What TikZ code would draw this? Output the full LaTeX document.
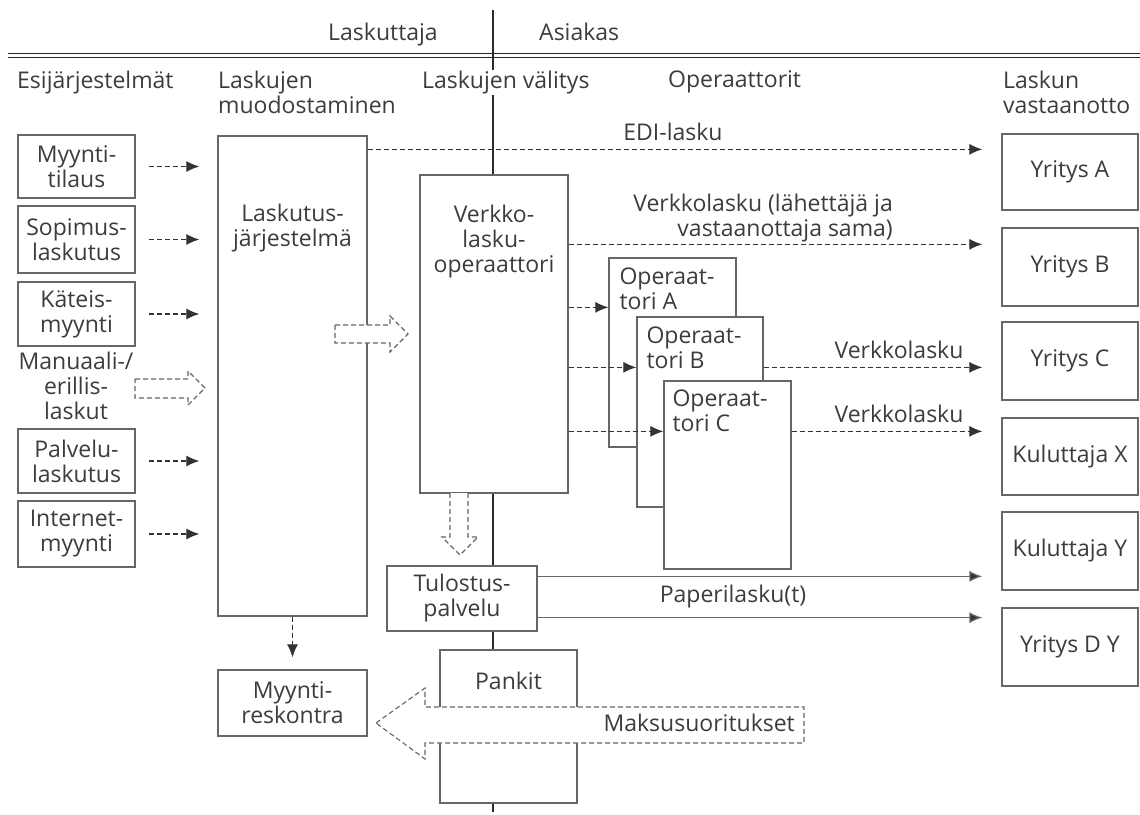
\documentclass[tikz,border=0pt]{standalone}
\usepackage{fontspec}
\setmainfont{Open Sans}
\usetikzlibrary{arrows.meta,calc}
\definecolor{txt}{HTML}{3C3C3C}
\definecolor{boxc}{HTML}{666666}
\definecolor{arrc}{HTML}{333333}
\definecolor{dark}{HTML}{2A2A2A}
\begin{document}
\begin{tikzpicture}[x=1pt,y=-1pt,
  every node/.style={font=\fontsize{23}{25}\selectfont, text=txt},
  box/.style={draw=boxc, line width=1.3pt, fill=white, inner sep=0pt, align=center},
  lbl/.style={inner sep=0pt, align=center},
  oplbl/.style={inner sep=0pt, align=left, anchor=north west},
  darr/.style={draw=arrc, line width=1.2pt, dash pattern=on 5pt off 3pt, -{Latex[length=13pt,width=11pt]}},
  sarr/.style={draw=boxc, line width=1.3pt, -{Latex[length=13pt,width=11pt, fill=arrc]}},
  blk/.style={draw=boxc, line width=1.1pt, dash pattern=on 5pt off 3pt, fill=white},
  hdr/.style={inner sep=0pt, align=left, anchor=north west},
]
\useasboundingbox (0,0) rectangle (1140,814);

% header rules and divider
\draw[line width=1pt, draw=dark] (8,53) -- (1140,53);
\draw[line width=1pt, draw=dark] (8,57) -- (1140,57);
\coordinate (vtop) at (493,10);
\coordinate (vbot) at (493,812);
\draw[line width=2.2pt, draw=dark] (vtop) -- (vbot);

% headers
\node[anchor=base] (hl) at (383,40) {Laskuttaja};
\node[anchor=base west, inner sep=0pt] (ha) at (539,40) {Asiakas};
\node[hdr] (h1) at (17,70.5) {Esijärjestelmät};
\node[hdr] (h2) at (218,70.5) {Laskujen\\muodostaminen};
\node[hdr, fill=white, inner sep=1pt] (h3) at (421,69.5) {Laskujen välitys};
\node[hdr] (h4) at (668,70.5) {Operaattorit};
\node[hdr] (h5) at (1003,70.5) {Laskun\\vastaanotto};

% left column
\node[box, minimum width=117pt, minimum height=63pt] (myt) at (76.5,166.5) {Myynti-\\tilaus};
\node[box, minimum width=117pt, minimum height=67pt] (sop) at (76.5,239.5) {Sopimus-\\laskutus};
\node[box, minimum width=117pt, minimum height=64pt] (kat) at (76.5,314) {Käteis-\\myynti};
\node[lbl] (man) at (76,386) {Manuaali-/\\erillis-\\laskut};
\node[box, minimum width=117pt, minimum height=64pt] (pal) at (76.5,461) {Palvelu-\\laskutus};
\node[box, minimum width=117pt, minimum height=66pt] (int) at (76.5,534) {Internet-\\myynti};

% invoicing system
\node[box, minimum width=149pt, minimum height=480pt,
  label={[lbl, anchor=center, yshift=-93pt]north:Laskutus-\\järjestelmä}] (ls) at (292.5,376) {};
\node[box, minimum width=149pt, minimum height=66pt] (mr) at (292.5,703) {Myynti-\\reskontra};

% network operator
\node[box, minimum width=148pt, minimum height=318pt,
  label={[lbl, anchor=center, yshift=-67pt]north:Verkko-\\lasku-\\operaattori}] (vo) at (494,334) {};

% operators
\node[box, minimum width=127pt, minimum height=189pt,
  label={[oplbl, xshift=11pt, yshift=-10pt]north west:Operaat-\\tori A}] (opa) at (672.5,352.5) {};
\node[box, minimum width=126pt, minimum height=190pt,
  label={[oplbl, xshift=10pt, yshift=-10pt]north west:Operaat-\\tori B}] (opb) at (700,412) {};
\node[box, minimum width=127pt, minimum height=188pt,
  label={[oplbl, xshift=9pt, yshift=-9pt]north west:Operaat-\\tori C}] (opc) at (727.5,475) {};

% print service and banks
\node[box, minimum width=150pt, minimum height=65pt] (tul) at (462,598.5) {Tulostus-\\palvelu};
\node[box, minimum width=137pt, minimum height=153pt,
  label={[lbl, anchor=center, yshift=-32pt]north:Pankit}] (pk) at (508.5,726.5) {};

% receivers
\node[box, minimum width=136pt, minimum height=76pt] (ya) at (1070,172) {Yritys A};
\node[box, minimum width=136pt, minimum height=78pt] (yb) at (1070,267) {Yritys B};
\node[box, minimum width=136pt, minimum height=78pt] (yc) at (1070,361) {Yritys C};
\node[box, minimum width=136pt, minimum height=77pt] (kx) at (1070,456.5) {Kuluttaja X};
\node[box, minimum width=136pt, minimum height=78pt] (ky) at (1070,551) {Kuluttaja Y};
\node[box, minimum width=136pt, minimum height=78pt] (yd) at (1070,647) {Yritys D Y};

% inputs to invoicing system
\foreach \n in {myt,sop,kat,pal,int}
  \draw[darr, shorten <=13pt, shorten >=18pt] (\n.east) -- (\n.east -| ls.west);
\draw[blk] (135,379) -- (188,379) -- (188,371) -- (205,388) -- (188,405) -- (188,398) -- (135,398) -- cycle;

% invoicing system to operator
\draw[blk] (335,325) -- (390,325) -- (390,316) -- (408,334) -- (390,352) -- (390,343) -- (335,343) -- cycle;

% EDI
\draw[darr, shorten >=19pt] ([yshift=-14pt]ls.north east) -- ([yshift=-14pt]ls.north east -| ya.west);
\node[anchor=base] (edi) at (673,140) {EDI-lasku};

% network invoice same operator
\draw[darr, shorten >=19pt] ([yshift=-70pt]vo.north east) -- ([yshift=-70pt]vo.north east -| yb.west);
\node[anchor=east, align=right, inner sep=0pt] (vl) at (893,218) {Verkkolasku (lähettäjä ja\\vastaanottaja sama)};

% to operators
\draw[darr] ([yshift=-133pt]vo.north east) -- ([yshift=-133pt]vo.north east -| opa.west);
\draw[darr] ([yshift=-193pt]vo.north east) -- ([yshift=-193pt]vo.north east -| opb.west);
\draw[darr] ([yshift=-257pt]vo.north east) -- ([yshift=-257pt]vo.north east -| opc.west);

% operators to receivers
\draw[darr, shorten >=19pt] ([yshift=-51pt]opb.north east) -- ([yshift=-51pt]opb.north east -| yc.west);
\node[lbl] (vk1) at (899,350) {Verkkolasku};
\draw[darr, shorten >=19pt] ([yshift=-51pt]opc.north east) -- ([yshift=-51pt]opc.north east -| kx.west);
\node[lbl] (vk2) at (899,414) {Verkkolasku};

% paper invoices
\draw[blk] (450,493) -- (450,537) -- (442,537) -- (460,555) -- (478,537) -- (468,537) -- (468,493);
\draw[sarr, shorten >=19pt] ([yshift=-11pt]tul.north east) -- ([yshift=-11pt]tul.north east -| ky.west);
\draw[sarr, shorten >=19pt] ([yshift=14pt]tul.south east) -- ([yshift=14pt]tul.south east -| yd.west);
\node[lbl] (pap) at (733,597) {Paperilasku(t)};

% ledger
\draw[darr, shorten >=12pt] (ls.south) -- (mr.north);

% payments
\draw[blk] (376,723) -- (425,688) -- (425,707) -- (804,707) -- (804,743) -- (425,743) -- (425,759) -- cycle;
\node[anchor=east, inner sep=0pt] (mak) at (795,723) {Maksusuoritukset};
\end{tikzpicture}
\end{document}
